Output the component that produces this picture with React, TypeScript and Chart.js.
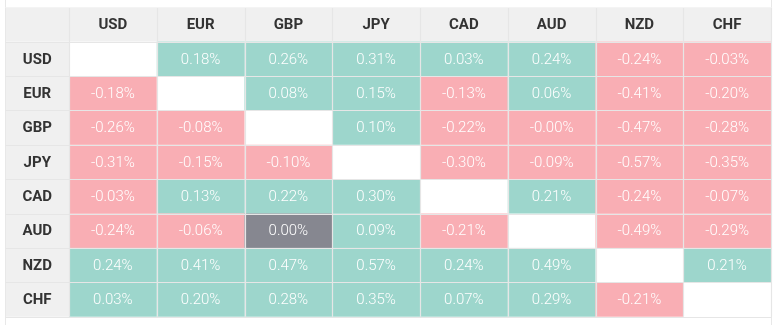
import React, { useEffect, useRef } from "react";
import { Chart, registerables } from "chart.js";

Chart.register(...registerables);

const currencies = ["USD", "EUR", "GBP", "JPY", "CAD", "AUD", "NZD", "CHF"];

const usdRow = [null, 0.18, 0.26, 0.31, 0.03, 0.24, -0.24, -0.03];
const eurRow = [-0.18, null, 0.08, 0.15, -0.13, 0.06, -0.41, -0.2];
const gbpRow = [-0.26, -0.08, null, 0.1, -0.22, -0.0, -0.47, -0.28];
const jpyRow = [-0.31, -0.15, -0.1, null, -0.3, -0.09, -0.57, -0.35];
const cadRow = [-0.03, 0.13, 0.22, 0.3, null, 0.21, -0.24, -0.07];
const audRow = [-0.24, -0.06, 0.0, 0.09, -0.21, null, -0.49, -0.29];
const nzdRow = [0.24, 0.41, 0.47, 0.57, 0.24, 0.49, null, 0.21];
const chfRow = [0.03, 0.2, 0.28, 0.35, 0.07, 0.29, -0.21, null];

const rows = [usdRow, eurRow, gbpRow, jpyRow, cadRow, audRow, nzdRow, chfRow];

const POS = "rgb(157,214,204)";
const NEG = "rgb(249,174,180)";
const ZERO = "rgb(134,135,144)";
const HEAD_BG = "#f0f0f0";
const GRID = "#e6e6e6";

function cellColor(v: number) {
  if (Object.is(v, -0) || v < 0) return NEG;
  if (v === 0) return ZERO;
  return POS;
}

const points: any[] = [];
rows.forEach((r, i) =>
  r.forEach((v, j) => {
    if (v !== null) points.push({ x: j + 0.5, y: i + 0.5, v, row: i, col: j });
  })
);

const heatPlugin = {
  id: "heat",
  beforeDatasetsDraw(chart: any) {
    const ctx = chart.ctx;
    const xs = chart.scales.x;
    const ys = chart.scales.y;
    const n = currencies.length;
    const left = xs.getPixelForValue(0);
    const top = ys.getPixelForValue(0);
    const bottom = ys.getPixelForValue(n);
    const rowH = (bottom - top) / n;
    const headTop = top - rowH;
    const frameL = 5.5;
    const frameR = 771.5;
    ctx.save();
    ctx.strokeStyle = "#e8e8e8";
    ctx.lineWidth = 1;
    ctx.beginPath();
    ctx.moveTo(frameL, 0);
    ctx.lineTo(frameL, chart.height);
    ctx.moveTo(frameR, 0);
    ctx.lineTo(frameR, chart.height);
    ctx.stroke();
    ctx.fillStyle = HEAD_BG;
    ctx.fillRect(frameL + 0.5, headTop, frameR - frameL - 0.5, rowH);
    ctx.fillRect(frameL + 0.5, top, left - frameL - 0.5, bottom - top);
    const data = chart.data.datasets[0].data;
    for (const p of data) {
      const x0 = xs.getPixelForValue(p.col);
      const x1 = xs.getPixelForValue(p.col + 1);
      const y0 = ys.getPixelForValue(p.row);
      const y1 = ys.getPixelForValue(p.row + 1);
      ctx.fillStyle = cellColor(p.v);
      ctx.fillRect(x0, y0, x1 - x0, y1 - y0);
    }
    ctx.strokeStyle = GRID;
    ctx.lineWidth = 1.2;
    ctx.beginPath();
    for (let k = 0; k <= n; k++) {
      const x = Math.round(xs.getPixelForValue(k)) + 0.5;
      ctx.moveTo(x, headTop);
      ctx.lineTo(x, bottom);
      const y = Math.round(ys.getPixelForValue(k)) + 0.5;
      ctx.moveTo(frameL, y);
      ctx.lineTo(frameR, y);
    }
    ctx.stroke();
    ctx.strokeStyle = "#f4f4f4";
    ctx.lineWidth = 1;
    ctx.beginPath();
    ctx.moveTo(frameL, Math.round(headTop) + 0.5);
    ctx.lineTo(frameR, Math.round(headTop) + 0.5);
    ctx.stroke();
    ctx.textAlign = "center";
    ctx.textBaseline = "middle";
    ctx.font = "300 15px Roboto";
    ctx.fillStyle = "#ffffff";
    for (const p of data) {
      const cx = xs.getPixelForValue(p.x);
      const cy = ys.getPixelForValue(p.y);
      const s = (Object.is(p.v, -0) ? "-0.00" : p.v.toFixed(2)) + "%";
      ctx.fillText(s, cx, cy + 1);
    }
    ctx.fillStyle = "#333333";
    ctx.font = "bold 15px Roboto";
    currencies.forEach((c, k) => {
      const cx = xs.getPixelForValue(k + 0.5);
      ctx.fillText(c, cx, headTop + rowH / 2 + 1);
      const cy = ys.getPixelForValue(k + 0.5);
      ctx.fillText(c, (frameL + left) / 2, cy + 1);
    });
    ctx.restore();
  },
};

export default function App() {
  const ref = useRef<HTMLCanvasElement>(null);
  useEffect(() => {
    if (!ref.current) return;
    const chart = new Chart(ref.current, {
      type: "scatter",
      data: {
        datasets: [
          {
            data: points,
            pointRadius: 0,
            pointHoverRadius: 0,
          },
        ],
      },
      options: {
        animation: false,
        responsive: false,
        events: [],
        layout: { padding: { left: 69, right: 6, top: 41.6, bottom: 8.3 } },
        plugins: { legend: { display: false }, tooltip: { enabled: false } },
        scales: {
          x: { type: "linear", min: 0, max: 8, display: false },
          y: { type: "linear", min: 0, max: 8, reverse: true, display: false },
        },
      },
      plugins: [heatPlugin],
    });
    return () => chart.destroy();
  }, []);
  return (
    <div style={{ position: "fixed", left: 0, top: 0, width: 777, height: 325, background: "#fff" }}>
      <canvas ref={ref} width={777} height={325} style={{ width: 777, height: 325, display: "block" }} />
    </div>
  );
}
